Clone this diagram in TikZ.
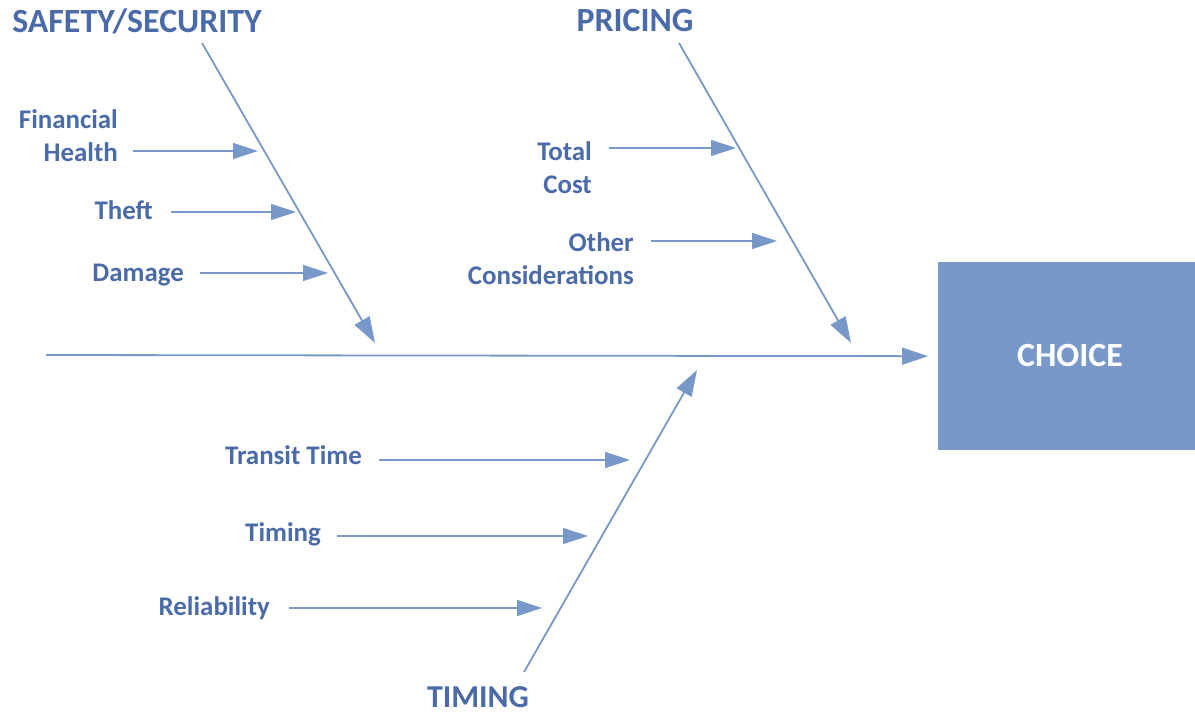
\documentclass[tikz,border=0pt]{standalone}
\usepackage{fontspec}
\setmainfont{Carlito}
\usetikzlibrary{arrows.meta}
\definecolor{txt}{HTML}{4A6AA8}
\definecolor{ln}{HTML}{7798C8}
\begin{document}
\begin{tikzpicture}[x=1bp,y=-1bp,
 bone/.style={draw=ln,line width=1.8bp,-{Triangle[length=26bp,width=17bp]}},
 sub/.style={draw=ln,line width=1.4bp,-{Triangle[length=25bp,width=16bp]}},
 head/.style={text=txt,font=\fontsize{34}{38}\selectfont\bfseries,inner sep=0},
 lab/.style={text=txt,font=\fontsize{27}{33}\selectfont\bfseries,inner sep=0,align=right},
]
\useasboundingbox (0,0) rectangle (1195,717);
% effect box
\node[fill=ln,minimum width=257bp,minimum height=188bp,inner sep=0,anchor=north west] (choice) at (938,262) {};
\node[text=white,font=\fontsize{34}{38}\selectfont\bfseries,inner sep=0] (choicetxt) at (1070,356) {CHOICE};
% spine
\coordinate (sp0) at (46,355);
\draw[bone,shorten >=10bp] (sp0) -- (choice.west);
% headings
\node[head] (hsafe) at (137,21) {SAFETY/SECURITY};
\node[head] (hprice) at (635,21) {PRICING};
\node[head,font=\fontsize{32}{36}\selectfont\bfseries,anchor=base] (htime) at (478,707) {TIMING};
% bones
\coordinate (s0) at (202,43); \coordinate (s1) at (375,343);
\coordinate (p0) at (679,43); \coordinate (p1) at (851,343);
\coordinate (t0) at (524,672); \coordinate (t1) at (697,370);
\draw[bone] (s0) -- (s1);
\draw[bone] (p0) -- (p1);
\draw[bone] (t0) -- (t1);
% sub-causes
\node[lab,anchor=east] (fin) at (118,136) {Financial\\Health};
\node[lab,anchor=base east] (theft) at (153,220) {Theft};
\node[lab,anchor=base east] (dam) at (184,281) {Damage};
\node[lab,anchor=east] (tot) at (592,168) {Total\\Cost};
\node[lab,anchor=east] (oth) at (634,259) {Other\\Considerations};
\node[lab,anchor=base east] (tra) at (362,464) {Transit Time};
\node[lab,anchor=base east] (tim) at (321,541) {Timing};
\node[lab,anchor=base east] (rel) at (270,615) {Reliability};
\coordinate (fin0) at (133,151); \coordinate (fin1) at (258,151);
\coordinate (th0) at (171,212); \coordinate (th1) at (296,212);
\coordinate (da0) at (200,273); \coordinate (da1) at (328,273);
\coordinate (to0) at (609,148); \coordinate (to1) at (736,148);
\coordinate (ot0) at (651,241); \coordinate (ot1) at (777,241);
\coordinate (tr0) at (379,460); \coordinate (tr1) at (630,460);
\coordinate (ti0) at (337,536); \coordinate (ti1) at (588,536);
\coordinate (re0) at (289,608); \coordinate (re1) at (542,608);
\draw[sub] (fin0) -- (fin1);
\draw[sub] (th0) -- (th1);
\draw[sub] (da0) -- (da1);
\draw[sub] (to0) -- (to1);
\draw[sub] (ot0) -- (ot1);
\draw[sub] (tr0) -- (tr1);
\draw[sub] (ti0) -- (ti1);
\draw[sub] (re0) -- (re1);
\end{tikzpicture}
\end{document}
